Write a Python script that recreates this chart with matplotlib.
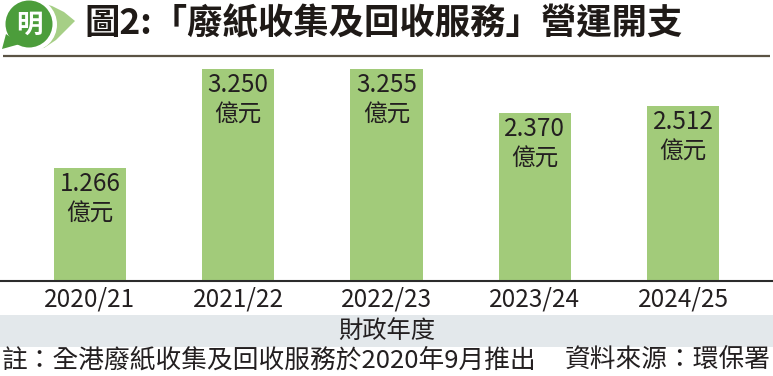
import matplotlib
matplotlib.use("Agg")
import matplotlib.pyplot as plt
from matplotlib.patches import Circle, Polygon, Rectangle
import numpy as np

plt.rcParams['font.family'] = ['Noto Sans CJK TC', 'DejaVu Sans']

# ---- data ----
categories = ["2020/21", "2021/22", "2022/23", "2023/24", "2024/25"]
values = [1.266, 3.250, 3.255, 2.370, 2.512]
unit = "億元"
title = "圖2:「廢紙收集及回收服務」營運開支"
xlabel = "財政年度"
note = "註：全港廢紙收集及回收服務於2020年9月推出"
source = "資料來源：環保署"
baseline = -1.0

W, H = 773, 376
fig = plt.figure(figsize=(W / 100, H / 100), dpi=100)
fig.patch.set_facecolor("white")

TXT = "#231f20"
LW = "light"

# overlay in pixel coordinates
ov = fig.add_axes([0, 0, 1, 1], zorder=0)
ov.set_xlim(0, W)
ov.set_ylim(H, 0)
ov.axis("off")

# logo
light = "#a6cf86"
dark = "#4c9d3b"
ov.add_patch(Polygon([(38, 2), (52, 6), (64, 12), (75, 21), (66, 30), (56, 40), (44, 48), (30, 49)],
                     closed=True, facecolor=light, edgecolor="none"))
ov.add_patch(Circle((30, 24.5), 27, facecolor="white", edgecolor="none"))
ov.add_patch(Polygon([(6, 34), (2, 49), (20, 44)], closed=True, facecolor=dark, edgecolor="none"))
ov.add_patch(Circle((29, 24), 23.5, facecolor=dark, edgecolor="none"))
ov.text(29, 25, "明", color="white", fontsize=19, fontweight="heavy", ha="center", va="center")

# title
ov.text(84, 24, title, fontsize=25.5, fontweight="bold", color="#1f1a17", ha="left", va="center")
ov.plot([3, 770], [56, 56], color="#5b5344", lw=1.6, solid_capstyle="butt")

# x label band
ov.add_patch(Rectangle((0, 315), W, 32, facecolor="#e3e8eb", edgecolor="none"))
ov.text(W / 2, 331, xlabel, fontsize=17.5, color=TXT, fontweight=LW, ha="center", va="center")

# footnotes
ov.text(2, 361, note, fontsize=18.5, color=TXT, fontweight=LW, ha="left", va="center")
ov.text(771, 361, source, fontsize=18.5, color=TXT, fontweight=LW, ha="right", va="center")

# bar chart axes
bot_px, top_px = 281, 57
ax = fig.add_axes([0, (H - bot_px) / H, 1, (bot_px - top_px) / H], zorder=1)
ax.patch.set_alpha(0)
x = np.arange(len(categories))
heights = [v - baseline for v in values]
ax.bar(x, heights, bottom=baseline, width=0.486, color="#a2cb7a", edgecolor="none")
ax.set_xlim(-0.607, 4.607)
ax.set_ylim(baseline, baseline + (bot_px - top_px) / 49.9)

for i, v in enumerate(values):
    ax.annotate(f"{v:.3f}", (i, v), xytext=(0, -2.5), textcoords="offset points",
                ha="center", va="top", fontsize=17.5, color=TXT, fontweight=LW)
    ax.annotate(unit, (i, v), xytext=(0, -25), textcoords="offset points",
                ha="center", va="top", fontsize=17, color=TXT, fontweight=LW)

ax.set_xticks(x)
ax.set_xticklabels(categories, fontsize=17.5, color=TXT, fontweight=LW)
ax.tick_params(axis="x", length=0, pad=4)
ax.set_yticks([])
for s in ["top", "left", "right"]:
    ax.spines[s].set_visible(False)
ax.spines["bottom"].set_color("#2b2b2b")
ax.spines["bottom"].set_linewidth(1.5)

fig.savefig("out.png", dpi=100, facecolor="white")
